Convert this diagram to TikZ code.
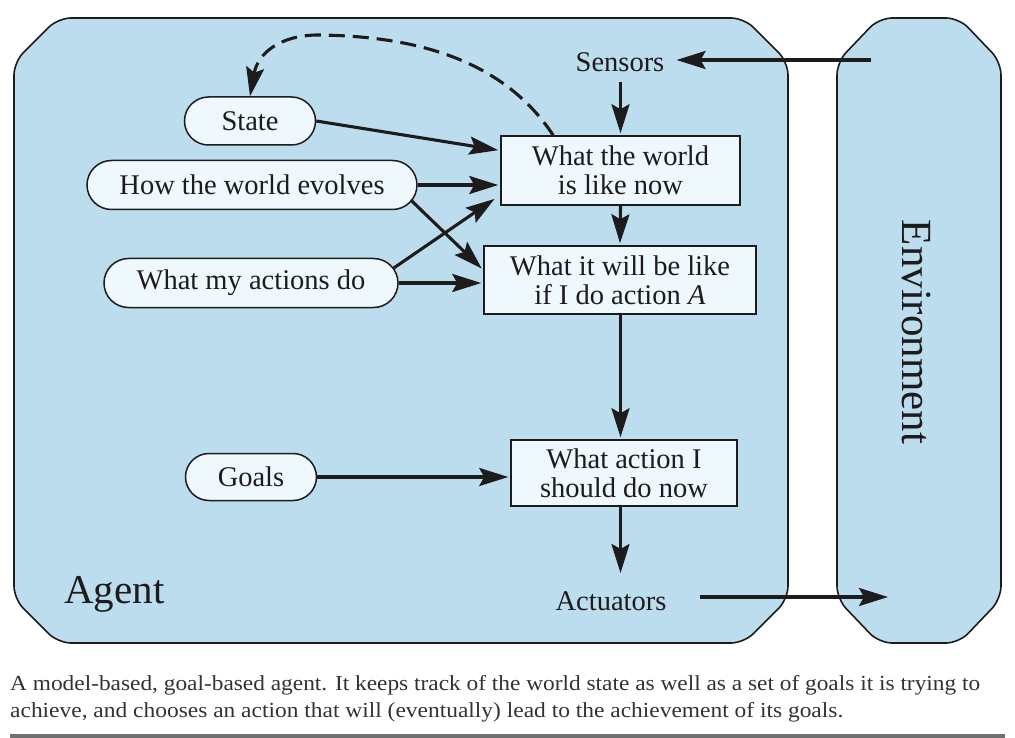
\documentclass[tikz,border=0pt]{standalone}
\usepackage{fontspec}
\setmainfont{Liberation Serif}
\usetikzlibrary{arrows.meta,shapes.misc,calc}
\definecolor{agentblue}{RGB}{188,221,237}
\definecolor{nodefill}{RGB}{239,248,253}
\definecolor{ink}{RGB}{30,27,28}
\definecolor{rulegray}{RGB}{112,112,112}
\definecolor{captext}{RGB}{50,50,50}
\newcommand\dgfont{\fontsize{28.5}{29}\selectfont}
\newcommand\capfont{\fontsize{21.5}{24}\selectfont}
\begin{document}
\begin{tikzpicture}[x=1pt,y=-1pt,
  frame/.style={draw=ink, line width=1.6pt, fill=agentblue, rounded corners=13pt},
  pill/.style={rounded rectangle, draw=ink, line width=1.5pt, fill=nodefill, font=\dgfont, text=ink, inner sep=0pt},
  box/.style={rectangle, draw=ink, line width=1.5pt, fill=nodefill, font=\dgfont, text=ink, align=center, inner sep=0pt},
  lbl/.style={font=\dgfont, text=ink, inner sep=2pt},
  arr/.style={draw=ink, line width=3.1pt, shorten >=2pt, -{Stealth[length=29pt,width=18pt,inset=5pt]}},
  dasharr/.style={arr, shorten >=0pt, dash pattern=on 16pt off 8pt},
  capline/.style={anchor=base west, inner sep=0pt, font=\capfont, text=captext}
]
\useasboundingbox (0,0) rectangle (1015,738);

% frames
\path[frame] (14,62) -- (58,18) -- (744,18) -- (788,62) -- (788,599) -- (744,643) -- (58,643) -- (14,599) -- cycle;
\path[frame] (837,62) -- (879,18) -- (959,18) -- (1001,62) -- (1001,599) -- (959,643) -- (879,643) -- (837,599) -- cycle;

% texts
\node[lbl, anchor=base] (se) at (620,72) {Sensors};
\node[lbl, anchor=base] (act) at (611,610) {Actuators};
\node[anchor=base west, inner sep=0pt, font=\fontsize{41}{41}\selectfont, text=ink] (ag) at (64,603) {Agent};
\node[anchor=base, rotate=-90, inner sep=0pt, font=\fontsize{43}{43}\selectfont, text=ink] (env) at (902,332) {Environment};

% pills
\node[pill, minimum width=131pt, minimum height=48pt] (st) at (250,121) {State};
\node[pill, minimum width=330pt, minimum height=49pt] (hw) at (252,185) {How the world evolves};
\node[pill, minimum width=294pt, minimum height=49pt] (wa) at (251,283) {What my actions do};
\node[pill, minimum width=131pt, minimum height=47pt] (go) at (251,477) {Goals};

% boxes
\node[box, minimum width=239pt, minimum height=69pt] (wn) at (620.5,170.5) {What the world\\is like now};
\node[box, minimum width=272pt, minimum height=68pt] (wb) at (620,280) {What it will be like\\if I do action \textit{A}};
\node[box, minimum width=226pt, minimum height=66pt] (ac) at (624,473) {What action I\\should do now};

% coordinates
\coordinate (envin) at (871,60);
\coordinate (envout) at (888,597);
\coordinate (dstart) at ($(wn.north west)!0.22!(wn.north east)$);

% connectors
\draw[arr, shorten >=10pt] (envin) -- (envin -| se.east);
\draw[arr] (se.south -| wn.north) ++(0,8) -- (wn.north);
\draw[arr] (wn.south) -- (wb.north);
\draw[arr] (wb.south -| wn.south) -- (wn.south |- ac.north);
\draw[arr, shorten >=16pt] (wn.south |- ac.south) -- (wn.south |- act.north);
\draw[arr, shorten <=31pt, shorten >=0pt] (act.east |- envout) -- (envout);
\draw[arr] (st.east) -- ($(wn.west)+(0,-20)$);
\draw[arr] (hw.east) -- (hw.east -| wn.west);
\draw[arr] ($(hw.east)+(-7,15)$) -- ($(wb.west)+(0,-10)$);
\draw[arr] ($(wa.east)+(-5,-15)$) -- ($(wn.south west)+(-4,-8)$);
\draw[arr] (wa.east) -- (wa.east -| wb.west);
\draw[arr] (go.east) -- (go.east -| ac.west);
\draw[dasharr] (dstart) .. controls (505,62) and (420,36) .. (318,35) .. controls (282,35) and (258,52) .. (st.north);

% caption
\node[capline] (c1) at (10,690) {\resizebox{970pt}{\height}{A model-based, goal-based agent. It keeps track of the world state as well as a set of goals it is trying to}};
\node[capline] (c2) at (10,717) {\resizebox{833pt}{\height}{achieve, and chooses an action that will (eventually) lead to the achievement of its goals.}};
\draw[rulegray, line width=4pt] (10,736) -- (1005,736);
\end{tikzpicture}
\end{document}
